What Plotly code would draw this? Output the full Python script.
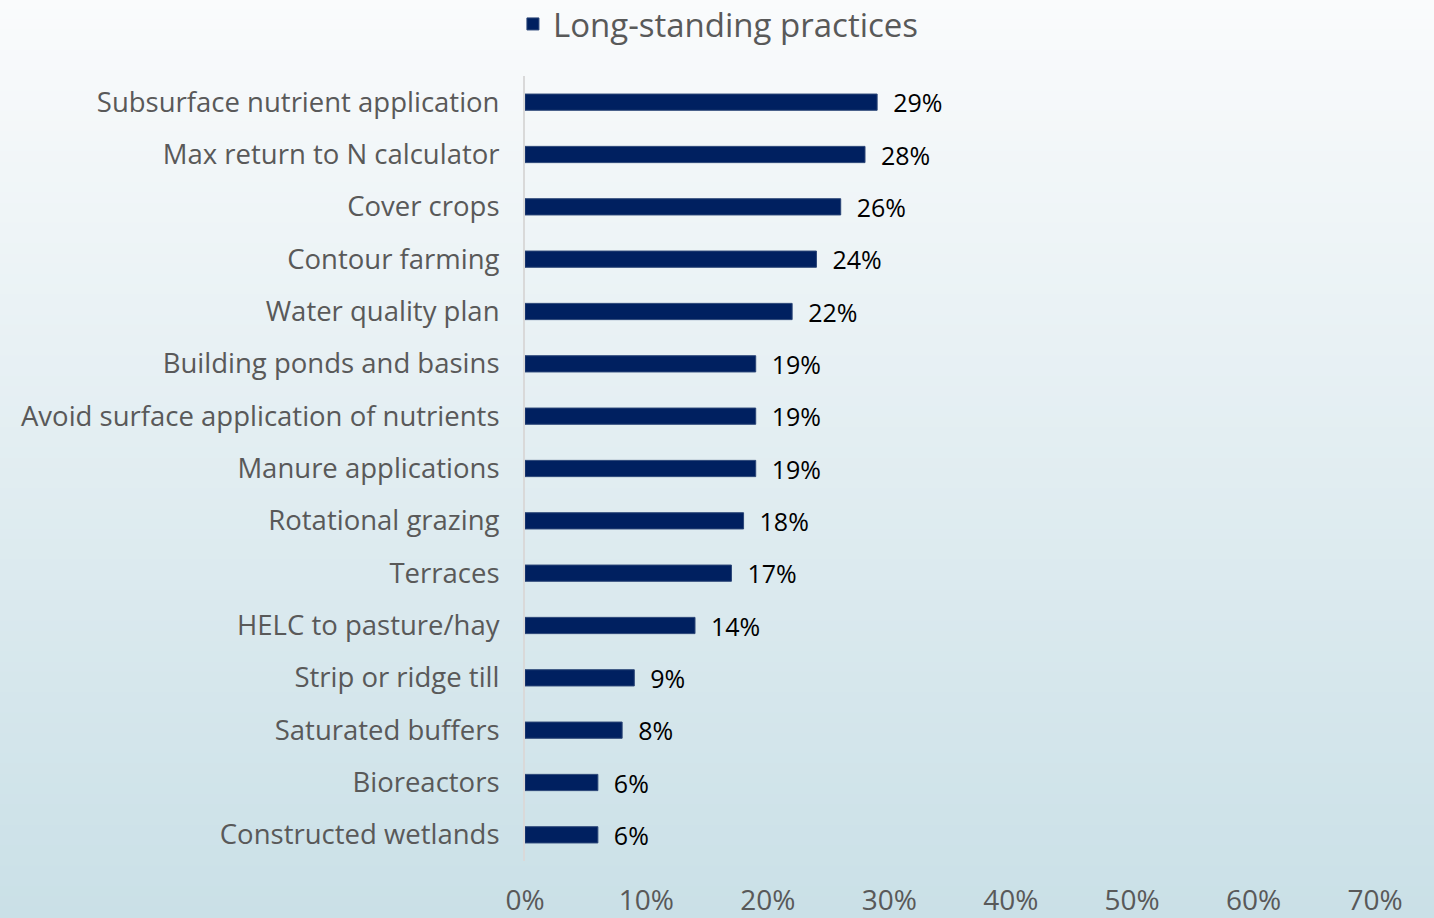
import plotly.graph_objects as go

# Practices and share of respondents reporting each as long-standing (%)
practices = [
    "Subsurface nutrient application",
    "Max return to N calculator",
    "Cover crops",
    "Contour farming",
    "Water quality plan",
    "Building ponds and basins",
    "Avoid surface application of nutrients",
    "Manure applications",
    "Rotational grazing",
    "Terraces",
    "HELC to pasture/hay",
    "Strip or ridge till",
    "Saturated buffers",
    "Bioreactors",
    "Constructed wetlands",
]
long_standing = [29, 28, 26, 24, 22, 19, 19, 19, 18, 17, 14, 9, 8, 6, 6]
x_ticks = [0, 10, 20, 30, 40, 50, 60, 70]

W, H = 1434, 918
M_L, M_R, M_T, M_B = 525, 59, 76, 57
plot_h = H - M_T - M_B

FONT = "'Open Sans', Lato, sans-serif"
BAR = "#002060"

fig = go.Figure(
    go.Bar(
        x=long_standing,
        y=practices,
        orientation="h",
        name="Long-standing practices",
        marker=dict(color=BAR, line=dict(color="#2a4577", width=1)),
        width=0.31,
        text=[f"  {v}%" for v in long_standing],
        textposition="outside",
        constraintext="none",
        textfont=dict(color="#000000", size=25, family=FONT),
        cliponaxis=False,
    )
)

# Vertical background gradient (white at top to pale blue-grey at bottom)
top_rgb = (250, 251, 252)
bot_rgb = (202, 224, 231)
n_bands = 90
y_top = 1 + M_T / plot_h
y_bot = -M_B / plot_h
shapes = []
for i in range(n_bands):
    t = i / (n_bands - 1)
    r, g, b = (round(top_rgb[k] + (bot_rgb[k] - top_rgb[k]) * t) for k in range(3))
    y1 = y_top - (y_top - y_bot) * i / n_bands
    y0 = y_top - (y_top - y_bot) * (i + 1) / n_bands
    if i == 0:
        y1 += 0.3
    if i == n_bands - 1:
        y0 -= 0.3
    shapes.append(dict(
        type="rect", xref="paper", yref="paper",
        x0=-1.0, x1=1.5,
        y0=y0 - 0.002, y1=y1 + 0.002,
        fillcolor=f"rgb({r},{g},{b})", line=dict(width=0), layer="below",
    ))

fig.update_layout(
    width=W,
    height=H,
    margin=dict(l=M_L, r=M_R, t=M_T, b=M_B),
    paper_bgcolor="rgba(0,0,0,0)",
    plot_bgcolor="rgba(0,0,0,0)",
    shapes=shapes,
    showlegend=True,
    legend=dict(
        orientation="h",
        xref="container", x=0.501, xanchor="center",
        yref="container", y=1 - 24 / H, yanchor="middle",
        font=dict(size=33, color="#595959", family=FONT),
        bgcolor="rgba(0,0,0,0)",
        itemwidth=30,
    ),
    font=dict(family=FONT),
)

fig.update_xaxes(
    range=[0, 70],
    tickvals=x_ticks,
    ticktext=[f"{v}%" for v in x_ticks],
    showgrid=False,
    zeroline=False,
    showline=False,
    ticks="",
    tickfont=dict(size=28, color="#595959", family=FONT),
    ticklabelstandoff=20,
    automargin=False,
)
fig.update_yaxes(
    autorange="reversed",
    showgrid=False,
    zeroline=False,
    showline=True,
    linecolor="#d9d9d9",
    linewidth=2,
    ticks="",
    tickfont=dict(size=27.5, color="#595959", family=FONT),
    ticklabelstandoff=18,
    automargin=False,
)

fig.write_html("out.html")
